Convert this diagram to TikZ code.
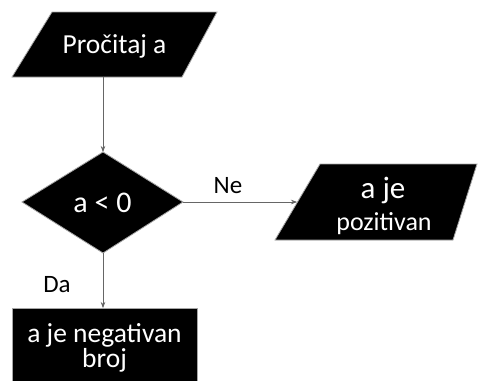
\documentclass[tikz,border=0pt]{standalone}
\usepackage{fontspec}
\setmainfont{Carlito}
\usetikzlibrary{arrows.meta}
\begin{document}
\begin{tikzpicture}[x=1pt,y=-1pt,
  shapebox/.style={fill=black,draw=gray!70,line width=0.8pt},
  txt/.style={text=white,align=center,inner sep=0pt},
  conn/.style={draw=gray!80!black,line width=0.7pt,-{Stealth[length=6pt,width=4.5pt,fill=black]}},
  lbl/.style={font=\fontsize{25}{27}\selectfont,inner sep=0pt}]
\useasboundingbox (0,0) rectangle (478,380);
% input
\path[shapebox] (52,12) -- (217,12) -- (182,77) -- (12,77) -- cycle;
\node[txt,font=\fontsize{27.5}{30}\selectfont] (in) at (114.5,46) {Pročitaj a};
\coordinate (inb) at (103,77);
% decision
\path[shapebox] (103,152) -- (183,202) -- (103,253) -- (22,202) -- cycle;
\node[txt,font=\fontsize{30}{32}\selectfont] (dec) at (102.5,203) {a < 0};
\coordinate (dect) at (103,152);
\coordinate (decr) at (183,202);
\coordinate (decb) at (103,253);
% output positive
\path[shapebox] (320,164) -- (477,164) -- (453,240) -- (275,240) -- cycle;
\node[txt,font=\fontsize{31}{33}\selectfont] (pos1) at (383,190) {a je};
\node[txt,font=\fontsize{26}{28}\selectfont] (pos2) at (384,224) {pozitivan};
\coordinate (posl) at (297,202);
% negative
\path[shapebox] (12,308) rectangle (197,382);
\node[txt,font=\fontsize{27.5}{25}\selectfont] (neg) at (104.5,348) {a je negativan\\broj};
\coordinate (negt) at (103,308);
% connectors
\draw[conn] (inb) -- (dect);
\draw[conn] (decr) -- (posl);
\node[lbl] (ne) at (228,186) {Ne};
\draw[conn] (decb) -- (negt);
\node[lbl] (da) at (57,285) {Da};
\end{tikzpicture}
\end{document}
